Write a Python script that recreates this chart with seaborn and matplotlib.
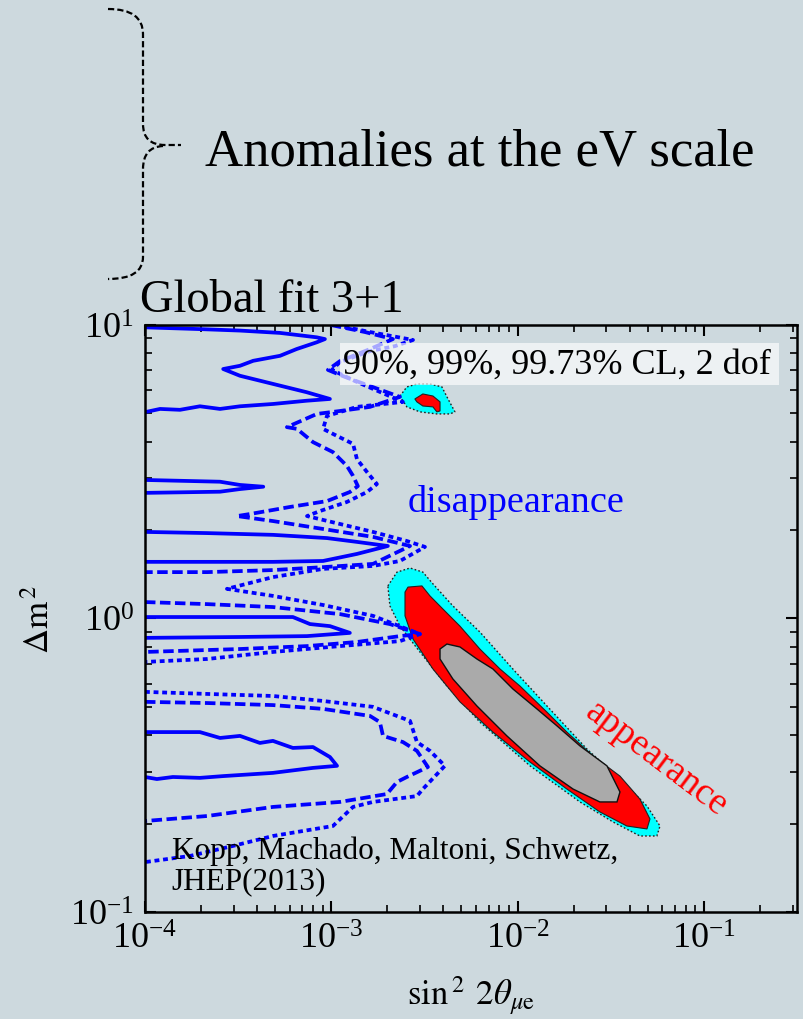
import numpy as np
import pandas as pd
import matplotlib
matplotlib.use("Agg")
import matplotlib.pyplot as plt
from matplotlib.path import Path
from matplotlib.patches import PathPatch, Rectangle
from matplotlib.ticker import LogLocator, NullFormatter, LogFormatterSciNotation
import seaborn as sns

# ---------------------------------------------------------------------------
# Disappearance exclusion boundaries (log10 sin^2 2theta_mue, log10 dm^2)
# solid = 90% CL, dashed = 99% CL, dotted = 99.73% CL
# ---------------------------------------------------------------------------
solid_a_x = [-4.00, -3.705, -3.490, -3.275, -3.078, -3.034, -3.078, -3.186, -3.275, -3.419, -3.490, -3.580,
             -3.490, -3.311, -3.132, -3.007, -3.132, -3.311, -3.490, -3.597, -3.705, -3.812, -3.919, -4.00]
solid_a_y = [0.992, 0.986, 0.981, 0.973, 0.958, 0.952, 0.941, 0.918, 0.895, 0.878, 0.861, 0.850,
             0.827, 0.799, 0.771, 0.748, 0.742, 0.731, 0.723, 0.714, 0.723, 0.711, 0.714, 0.703]

solid_b_x = [-4.00, -3.597, -3.490, -3.365, -3.490, -3.597, -4.00]
solid_b_y = [0.472, 0.466, 0.455, 0.449, 0.441, 0.432, 0.428]

solid_c_x = [-4.00, -3.667, -3.313, -3.023, -2.862, -2.696, -2.862, -3.044, -3.313, -3.667, -4.00]
solid_c_y = [0.295, 0.291, 0.285, 0.274, 0.261, 0.247, 0.220, 0.196, 0.193, 0.193, 0.193]

solid_d_x = [-4.00, -3.667, -3.206, -3.114, -3.007, -2.900, -3.130, -3.490, -4.00]
solid_d_y = [0.005, 0.005, 0.005, -0.019, -0.026, -0.049, -0.060, -0.063, -0.066]

solid_e_x = [-4.00, -3.705, -3.597, -3.490, -3.383, -3.313, -3.206, -3.098, -3.007, -2.969, -3.098, -3.313,
             -3.581, -3.705, -3.850, -3.936, -4.00]
solid_e_y = [-0.387, -0.387, -0.407, -0.400, -0.424, -0.417, -0.441, -0.438, -0.472, -0.502, -0.509, -0.526,
             -0.537, -0.543, -0.540, -0.547, -0.540]

dashed_a_x = [-3.002, -2.819, -2.669, -2.792, -2.953, -3.018, -2.926, -2.792, -2.631, -2.792, -2.953, -3.077,
              -3.238, -3.184, -3.098, -2.991, -2.916, -2.883, -2.857, -2.900, -3.023, -3.222, -3.436, -3.506,
              -3.313, -3.044, -2.776, -2.577, -2.776, -3.044, -3.313, -3.667, -4.00]
dashed_a_y = [1.000, 0.976, 0.952, 0.918, 0.877, 0.847, 0.823, 0.792, 0.755, 0.721, 0.707, 0.697,
              0.652, 0.646, 0.601, 0.567, 0.520, 0.486, 0.451, 0.431, 0.400, 0.380, 0.356, 0.349,
              0.332, 0.305, 0.278, 0.247, 0.186, 0.175, 0.165, 0.158, 0.158]

dashed_b_x = [-4.00, -3.667, -3.313, -2.953, -2.685, -2.524, -2.631, -2.862, -3.130, -3.490, -4.00]
dashed_b_y = [0.056, 0.049, 0.039, 0.015, -0.019, -0.053, -0.060, -0.080, -0.094, -0.104, -0.114]

dashed_c_x = [-4.00, -3.667, -3.313, -3.044, -2.792, -2.739, -2.722, -2.615, -2.540, -2.481, -2.594, -2.647,
              -2.701, -2.953, -3.313, -3.667, -4.00]
dashed_c_y = [-0.284, -0.288, -0.295, -0.308, -0.332, -0.353, -0.400, -0.421, -0.451, -0.506, -0.540, -0.557,
              -0.598, -0.625, -0.642, -0.673, -0.690]

dotted_a_x = [-2.975, -2.792, -2.561, -2.658, -2.792, -2.953, -2.996, -2.873, -2.615, -2.862, -3.023, -3.044,
              -2.969, -2.883, -2.862, -2.808, -2.755, -2.808, -2.916, -3.061, -3.130, -2.953, -2.776, -2.594,
              -2.497, -2.631, -2.776, -3.044, -3.313, -3.560, -3.313, -3.044, -2.776, -2.524, -2.631, -2.953,
              -3.313, -3.667, -4.00]
dotted_a_y = [1.000, 0.976, 0.949, 0.928, 0.911, 0.874, 0.847, 0.809, 0.738, 0.721, 0.690, 0.646,
              0.622, 0.595, 0.543, 0.499, 0.458, 0.431, 0.397, 0.366, 0.349, 0.322, 0.295, 0.264,
              0.244, 0.196, 0.179, 0.169, 0.141, 0.101, 0.077, 0.046, 0.009, -0.053, -0.077, -0.094,
              -0.114, -0.138, -0.148]

dotted_b_x = [-4.00, -3.667, -3.313, -3.044, -2.776, -2.577, -2.540, -2.470, -2.390, -2.508, -2.540, -2.776,
              -2.883, -2.991, -3.313, -3.528, -3.758, -4.00]
dotted_b_y = [-0.250, -0.257, -0.264, -0.281, -0.301, -0.349, -0.421, -0.451, -0.502, -0.581, -0.605, -0.625,
              -0.642, -0.707, -0.741, -0.775, -0.809, -0.830]

# ---------------------------------------------------------------------------
# Appearance allowed regions (log10 sin^2 2theta_mue, log10 dm^2)
# ---------------------------------------------------------------------------
app_3s_x = [-2.696, -2.647, -2.577, -2.508, -2.454, -2.347, -2.202, -2.025, -1.842, -1.627, -1.450, -1.305,
            -1.235, -1.252, -1.343, -1.488, -1.665, -1.933, -2.202, -2.379, -2.524, -2.631, -2.685]
app_3s_y = [0.111, 0.158, 0.172, 0.158, 0.118, 0.043, -0.046, -0.172, -0.298, -0.445, -0.547, -0.639,
            -0.707, -0.741, -0.741, -0.693, -0.625, -0.502, -0.353, -0.230, -0.114, -0.026, 0.043]

app_99_x = [-2.604, -2.588, -2.513, -2.470, -2.400, -2.309, -2.202, -2.094, -1.987, -1.842, -1.735, -1.595,
            -1.450, -1.343, -1.289, -1.305, -1.413, -1.558, -1.735, -1.933, -2.132, -2.309, -2.454, -2.561, -2.604]
app_99_y = [0.090, 0.107, 0.111, 0.077, 0.032, -0.026, -0.104, -0.172, -0.230, -0.319, -0.387, -0.468,
            -0.537, -0.615, -0.683, -0.717, -0.707, -0.659, -0.581, -0.489, -0.387, -0.284, -0.172, -0.070, 0.009]

app_90_x = [-2.416, -2.379, -2.309, -2.218, -2.132, -2.025, -1.896, -1.788, -1.665, -1.520, -1.450, -1.466,
            -1.558, -1.702, -1.880, -2.057, -2.218, -2.347, -2.416]
app_90_y = [-0.104, -0.087, -0.097, -0.138, -0.172, -0.240, -0.308, -0.366, -0.434, -0.502, -0.591, -0.625,
            -0.625, -0.581, -0.502, -0.400, -0.298, -0.206, -0.138]

island_3s_x = [-2.631, -2.594, -2.540, -2.470, -2.406, -2.373, -2.336, -2.363, -2.433, -2.524, -2.594]
island_3s_y = [0.758, 0.789, 0.799, 0.799, 0.789, 0.748, 0.704, 0.697, 0.697, 0.704, 0.721]
island_99_x = [-2.551, -2.508, -2.454, -2.416, -2.416, -2.433, -2.454, -2.508, -2.540]
island_99_y = [0.748, 0.765, 0.758, 0.738, 0.707, 0.704, 0.721, 0.724, 0.738]

x_ticks = [1e-4, 1e-3, 1e-2, 1e-1]
y_ticks = [1e-1, 1e0, 1e1]

BG = "#cdd9de"
BLUE = "#0000ff"

sns.set_theme(style="ticks")
plt.rcParams["font.family"] = ["Liberation Serif", "DejaVu Serif"]
plt.rcParams["mathtext.fontset"] = "stix"

fig = plt.figure(figsize=(8.04, 10.20), dpi=100, facecolor=BG)
ax = fig.add_axes([0.1803, 0.1049, 0.8109, 0.5755], facecolor=BG)
ax.set_xscale("log")
ax.set_yscale("log")

# appearance regions: 99.73% (cyan), 99% (red), 90% (gray)
def region(xs, ys, **kw):
    ax.fill(np.power(10.0, xs), np.power(10.0, ys), **kw)

region(app_3s_x, app_3s_y, facecolor="#00ffff", edgecolor="#222222",
       linestyle=(0, (1.2, 1.6)), linewidth=1.0, zorder=1)
region(island_3s_x, island_3s_y, facecolor="#00ffff", edgecolor="#222222",
       linestyle=(0, (1.2, 1.6)), linewidth=1.0, zorder=1)
region(app_99_x, app_99_y, facecolor="#ff0000", edgecolor="#222222", linewidth=0.8, zorder=2)
region(island_99_x, island_99_y, facecolor="#ff0000", edgecolor="#222222", linewidth=0.8, zorder=2)
region(app_90_x, app_90_y, facecolor="#aaaaaa", edgecolor="#111111", linewidth=1.0, zorder=3)

# disappearance boundaries
pieces = [
    ("90", solid_a_x, solid_a_y), ("90", solid_b_x, solid_b_y), ("90", solid_c_x, solid_c_y),
    ("90", solid_d_x, solid_d_y), ("90", solid_e_x, solid_e_y),
    ("99", dashed_a_x, dashed_a_y), ("99", dashed_b_x, dashed_b_y), ("99", dashed_c_x, dashed_c_y),
    ("99.73", dotted_a_x, dotted_a_y), ("99.73", dotted_b_x, dotted_b_y),
]
frames = []
for i, (cl, xs, ys) in enumerate(pieces):
    frames.append(pd.DataFrame({"s2": np.power(10.0, xs), "dm2": np.power(10.0, ys),
                                "cl": cl, "piece": i}))
df = pd.concat(frames, ignore_index=True)

sns.lineplot(data=df, x="s2", y="dm2", style="cl", units="piece", estimator=None, sort=False,
             dashes={"90": "", "99": (2.8, 1.2), "99.73": (1.3, 1.0)},
             color=BLUE, linewidth=2.7, legend=False, ax=ax, zorder=4)

ax.set_xlim(1e-4, 10 ** -0.5)
ax.set_ylim(0.1, 10)

# axes styling
for s in ax.spines.values():
    s.set_linewidth(1.8)
    s.set_color("black")
    s.set_zorder(10)
ax.xaxis.set_minor_locator(LogLocator(base=10, subs=np.arange(2, 10), numticks=20))
ax.yaxis.set_minor_locator(LogLocator(base=10, subs=np.arange(2, 10), numticks=20))
ax.set_xticks(x_ticks)
ax.set_yticks(y_ticks)
ax.xaxis.set_major_formatter(LogFormatterSciNotation())
ax.yaxis.set_major_formatter(LogFormatterSciNotation())
ax.xaxis.set_minor_formatter(NullFormatter())
ax.yaxis.set_minor_formatter(NullFormatter())
ax.tick_params(which="both", direction="in", top=True, right=True, color="black")
ax.tick_params(which="major", length=8, width=1.5, labelsize=26, pad=8, labelcolor="black")
ax.tick_params(which="minor", length=5, width=1.2)
ax.set_xlim(1e-4, 10 ** -0.5)
ax.set_ylim(0.1, 10)

ax.set_xlabel(r"$\mathrm{sin}^{\,2}\;\, 2\theta_{\mu\mathrm{e}}$", fontsize=25, color="black")
ax.set_ylabel(r"$\Delta\mathrm{m}^{\,2}$", fontsize=25, color="black")
ax.xaxis.set_label_coords(0.5, -0.105)
ax.yaxis.set_label_coords(-0.135, 0.5)

# annotations inside the panel
ax.add_patch(Rectangle((0.299, 0.898), 0.673, 0.071, transform=ax.transAxes,
                       facecolor="white", alpha=0.66, edgecolor="none", zorder=5))
ax.text(0.304, 0.934, "90%, 99%, 99.73% CL, 2 dof", transform=ax.transAxes,
        ha="left", va="center", fontsize=26, color="black", zorder=6)
ax.text(0.569, 0.700, "disappearance", transform=ax.transAxes, ha="center", va="center",
        fontsize=27.5, color=BLUE, zorder=6)
ax.text(0.784, 0.262, "appearance", transform=ax.transAxes, ha="center", va="center",
        rotation=-37, rotation_mode="anchor", fontsize=27, color="#ff0000", zorder=6)
ax.text(0.041, 0.130, "Kopp, Machado, Maltoni, Schwetz,\nJHEP(2013)", transform=ax.transAxes,
        ha="left", va="top", fontsize=22.5, color="black", linespacing=1.05, zorder=6)

# header
W, H = 804.0, 1020.0
def fxy(x, y):
    return (x / W, 1.0 - y / H)

fig.text(*fxy(140, 312), "Global fit 3+1", fontsize=33.5, color="black", ha="left", va="baseline")
fig.text(*fxy(205, 165), "Anomalies at the eV scale", fontsize=38, color="black", ha="left", va="baseline")

# curly brace
upper = Path([fxy(108, 10), fxy(143, 10), fxy(143, 35), fxy(143, 125), fxy(143, 146), fxy(165, 146),
              fxy(181, 146)],
             [Path.MOVETO, Path.CURVE3, Path.CURVE3, Path.LINETO, Path.CURVE3, Path.CURVE3, Path.LINETO])
lower = Path([fxy(163, 147), fxy(143, 148), fxy(143, 170), fxy(143, 258), fxy(143, 280), fxy(108, 280)],
             [Path.MOVETO, Path.CURVE3, Path.CURVE3, Path.LINETO, Path.CURVE3, Path.CURVE3])
for p in (upper, lower):
    fig.add_artist(PathPatch(p, transform=fig.transFigure, facecolor="none", edgecolor="black",
                             linewidth=1.6, linestyle=(0, (2.8, 1.4))))

fig.savefig("out.png", dpi=100, facecolor=BG)
